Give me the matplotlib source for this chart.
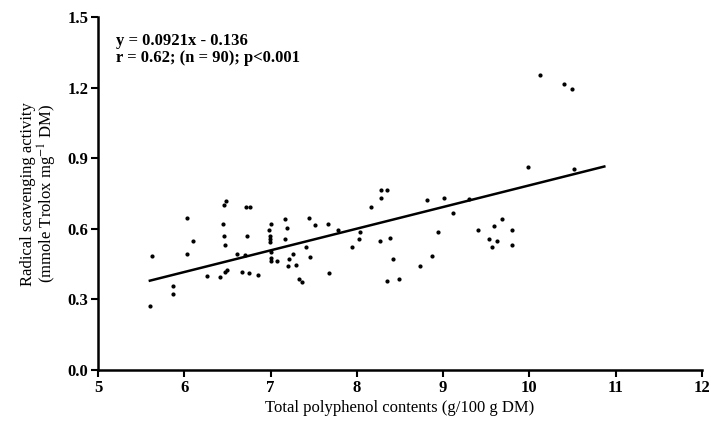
import numpy as np
import matplotlib
matplotlib.use("Agg")
import matplotlib.pyplot as plt

plt.rcParams['font.family'] = ['Liberation Serif', 'DejaVu Serif']
plt.rcParams['mathtext.fontset'] = 'stix'

# polyphenol content (g/100 g DM) vs radical scavenging activity
polyphenol = [5.60, 5.63, 5.87, 5.87, 6.03, 6.03, 6.10, 6.26, 6.41, 6.47,
              6.50, 6.48, 6.46, 6.45, 6.46, 6.47, 6.61, 6.70, 6.67, 6.75,
              6.85, 6.72, 6.76, 6.73, 7.00, 6.98, 6.99, 6.99, 6.99, 7.00,
              7.00, 7.00, 7.08, 7.17, 7.19, 7.17, 7.21, 7.26, 7.20, 7.29,
              7.33, 7.36, 7.45, 7.51, 7.66, 7.78, 7.41, 7.46, 7.68, 7.94,
              8.02, 8.04, 8.17, 8.28, 8.28, 8.35, 8.27, 8.38, 8.42, 8.35,
              8.49, 8.73, 8.87, 8.81, 8.94, 9.01, 9.11, 9.30, 9.40, 9.53,
              9.57, 9.59, 9.63, 9.68, 9.80, 9.80, 9.99, 10.12, 10.40, 10.49,
              10.52]
scavenging = [0.273, 0.483, 0.357, 0.324, 0.646, 0.493, 0.548, 0.398, 0.394, 0.416,
              0.425, 0.720, 0.700, 0.620, 0.568, 0.531, 0.493, 0.487, 0.415, 0.414,
              0.404, 0.694, 0.692, 0.568, 0.619, 0.594, 0.569, 0.557, 0.544, 0.503,
              0.478, 0.463, 0.463, 0.643, 0.605, 0.557, 0.472, 0.492, 0.442, 0.446,
              0.388, 0.375, 0.645, 0.618, 0.619, 0.594, 0.521, 0.482, 0.414, 0.523,
              0.557, 0.588, 0.694, 0.730, 0.766, 0.766, 0.548, 0.562, 0.473, 0.380,
              0.387, 0.442, 0.483, 0.722, 0.586, 0.732, 0.667, 0.727, 0.595, 0.557,
              0.521, 0.613, 0.547, 0.643, 0.594, 0.533, 0.864, 1.255, 1.214, 1.196,
              0.854]

slope = 0.0921
intercept = -0.136
line_x = np.array([5.6, 10.87])

x_ticks = [5, 6, 7, 8, 9, 10, 11, 12]
y_ticks = [0.0, 0.3, 0.6, 0.9, 1.2, 1.5]

fig = plt.figure(figsize=(7.11, 4.29), dpi=100)
ax = fig.add_axes([0.138, 0.1375, 0.849, 0.8225])

ax.plot(polyphenol, scavenging, 'o', color='black', markersize=2.0, linestyle='none')
ax.plot(line_x, slope * line_x + intercept, color='black', linewidth=1.8)

ax.set_xlim(5, 12)
ax.set_ylim(0, 1.5)
ax.set_xticks(x_ticks)
ax.set_yticks(y_ticks)
ax.set_xticklabels([str(t) for t in x_ticks], fontweight='bold', fontsize=12)
ax.set_yticklabels(['%.1f' % t for t in y_ticks], fontweight='bold', fontsize=12)

for side in ['top', 'right']:
    ax.spines[side].set_visible(False)
for side in ['left', 'bottom']:
    ax.spines[side].set_linewidth(1.8)
ax.tick_params(direction='out', length=5, width=1.5, pad=2)

ax.set_xlabel('Total polyphenol contents (g/100 g DM)', fontsize=12, labelpad=3)
ax.set_ylabel('Radical scavenging activity\n(mmole Trolox mg$^{-1}$ DM)', fontsize=12,
              labelpad=6, linespacing=1.0)

ax.text(0.03, 0.955, 'y = 0.0921x - 0.136\nr = 0.62; (n = 90); p<0.001',
        transform=ax.transAxes, fontsize=12, fontweight='bold', va='top', ha='left',
        linespacing=1.05)

fig.savefig('out.png', dpi=100)
